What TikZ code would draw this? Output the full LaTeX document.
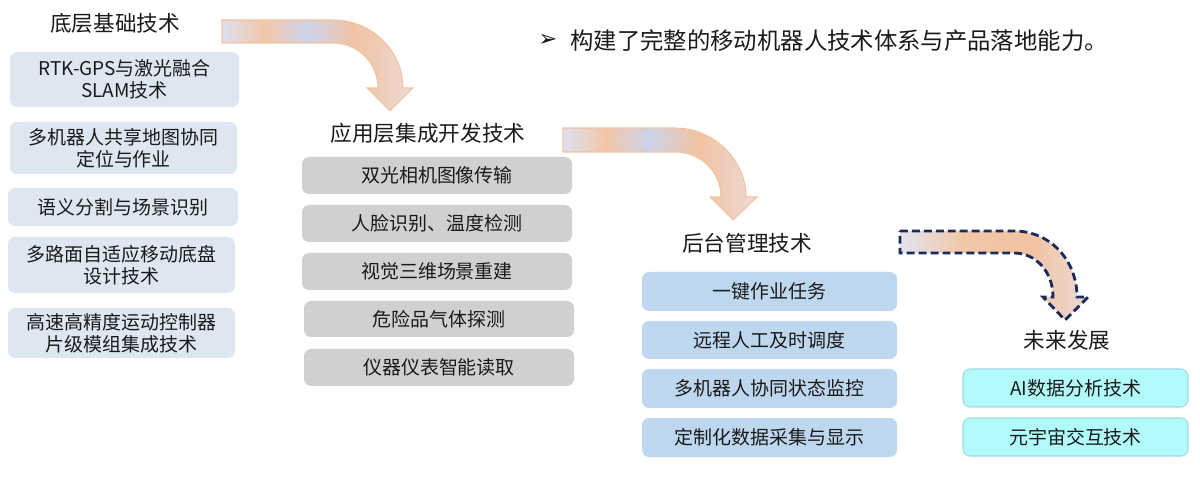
\documentclass[tikz,border=0pt]{standalone}
\usepackage{fontspec}
\setmainfont{Noto Sans CJK SC}
\newfontfamily\dejavu{DejaVu Sans}
\definecolor{leftfill}{HTML}{DEE6F2}
\definecolor{grayfill}{HTML}{D0D0D0}
\definecolor{bluefill}{HTML}{BDD7EE}
\definecolor{cyanfill}{HTML}{B2FBFB}
\definecolor{cyanline}{HTML}{A2D8E6}
\definecolor{txt}{HTML}{1A1A1A}
\definecolor{peachline}{HTML}{F2C3A0}
\definecolor{navy}{HTML}{1B2A5C}
\definecolor{shA}{HTML}{DCE0F0}
\definecolor{shB}{HTML}{F2C7A7}
\definecolor{shC}{HTML}{CCD3EA}
\definecolor{shD}{HTML}{F1C3A2}
\definecolor{shE}{HTML}{ECDAD8}
\definecolor{shF}{HTML}{E4E4EE}
\pgfdeclarehorizontalshading{bentshade}{100bp}{color(0bp)=(shA); color(25bp)=(shA); color(36bp)=(shB); color(47bp)=(shC); color(60bp)=(shD); color(75bp)=(shE); color(100bp)=(shE)}
\pgfdeclarehorizontalshading{futureshade}{100bp}{color(0bp)=(shF); color(25bp)=(shF); color(42bp)=(shB); color(60bp)=(shD); color(75bp)=(shE); color(100bp)=(shE)}
\tikzset{
  sz/.style 2 args={minimum width=#1*0.02cm, minimum height=#2*0.02cm},
  boxbase/.style={rounded corners=4pt, inner sep=0pt, align=center, text=txt, font=\fontsize{10.8pt}{12.6pt}\selectfont},
  leftbox/.style={boxbase, fill=leftfill},
  graybox/.style={boxbase, fill=grayfill},
  bluebox/.style={boxbase, fill=bluefill},
  cyanbox/.style={boxbase, fill=cyanfill, draw=cyanline, line width=0.6pt},
  titletext/.style={inner sep=0pt, text=txt, font=\fontsize{12.3pt}{14pt}\selectfont},
  bentarrow/.style={shading=bentshade, draw=peachline, line width=0.6pt},
  futurearrow/.style={shading=futureshade, draw=navy, line width=1.6pt, dash pattern=on 4.5pt off 2.3pt, line join=miter},
}
\begin{document}
\begin{tikzpicture}[x=0.02cm, y=-0.02cm]
\useasboundingbox (0,0) rectangle (1200,479);

% bent arrows
\path[bentarrow] (222,20) -- (333,20) .. controls (372,20) and (403,51) .. (403,88) -- (413,88) -- (390,111) -- (367,88) -- (378,88) .. controls (378,63) and (358,43) .. (333,43) -- (222,43) -- cycle;
\path[bentarrow] (563,128) -- (675,128) .. controls (714,128) and (746,160) .. (746,197) -- (757,197) -- (733,220) -- (710,197) -- (721,197) .. controls (721,172) and (701,152) .. (675,152) -- (563,152) -- cycle;
\path[futurearrow] (900,231) -- (1014,231) .. controls (1050,231) and (1077,260) .. (1077,297) -- (1088,297) -- (1065,320) -- (1043,297) -- (1053,297) .. controls (1053,272) and (1036,253) .. (1014,253) -- (900,253) -- cycle;

% titles
\node[titletext] (t1) at (115,23) {底层基础技术};
\node[titletext] (t2) at (428,133) {应用层集成开发技术};
\node[titletext] (t3) at (747,243) {后台管理技术};
\node[titletext] (t4) at (1067,340) {未来发展};

% bullet line
\node[inner sep=0pt, text=txt, font=\dejavu\fontsize{13pt}{14pt}\selectfont] (bul) at (548,40) {➢};
\node[inner sep=0pt, anchor=west, text=txt, font=\fontsize{13.3pt}{15pt}\selectfont] (summary) at (570,41) {构建了完整的移动机器人技术体系与产品落地能力。};

% left column
\node[leftbox, sz={229}{55}] (l1) at (124.5,79.5) {RTK-GPS与激光融合\\SLAM技术};
\node[leftbox, sz={227}{52}] (l2) at (123.5,148) {多机器人共享地图协同\\定位与作业};
\node[leftbox, sz={230}{38}] (l3) at (123,207) {语义分割与场景识别};
\node[leftbox, sz={227}{56}] (l4) at (121.5,265) {多路面自适应移动底盘\\设计技术};
\node[leftbox, sz={227}{50}] (l5) at (121.5,333) {高速高精度运动控制器\\片级模组集成技术};

% middle column
\node[graybox, sz={270}{37}] (m1) at (437,175.5) {双光相机图像传输};
\node[graybox, sz={270}{37}] (m2) at (437,223.5) {人脸识别、温度检测};
\node[graybox, sz={270}{37}] (m3) at (437,271.5) {视觉三维场景重建};
\node[graybox, sz={270}{36}] (m4) at (439,319) {危险品气体探测};
\node[graybox, sz={270}{37}] (m5) at (439,367.5) {仪器仪表智能读取};

% back-end column
\node[bluebox, sz={255}{39}] (r1) at (769.5,291.5) {一键作业任务};
\node[bluebox, sz={255}{38}] (r2) at (769.5,340) {远程人工及时调度};
\node[bluebox, sz={255}{39}] (r3) at (769.5,388.5) {多机器人协同状态监控};
\node[bluebox, sz={255}{39}] (r4) at (769.5,437.5) {定制化数据采集与显示};

% future column
\node[cyanbox, sz={225}{38}] (f1) at (1075.5,388) {AI数据分析技术};
\node[cyanbox, sz={225}{38}] (f2) at (1075.5,437) {元宇宙交互技术};
\end{tikzpicture}
\end{document}
